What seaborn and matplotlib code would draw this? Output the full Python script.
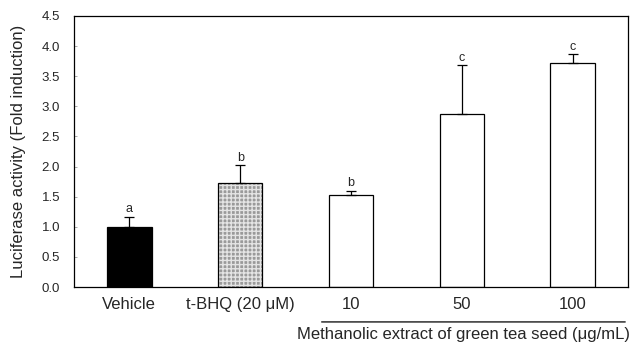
import matplotlib
matplotlib.use("Agg")
import matplotlib.pyplot as plt
import seaborn as sns
import pandas as pd
from matplotlib.patches import Rectangle

categories = ["Vehicle", "t-BHQ (20 \u03bcM)", "10", "50", "100"]
values = [1.00, 1.72, 1.52, 2.87, 3.72]
err_upper = [0.17, 0.31, 0.08, 0.81, 0.15]
letters = ["a", "b", "b", "c", "c"]
face_colors = ["black", "#9a9a9a", "white", "white", "white"]
yticks = [0.0, 0.5, 1.0, 1.5, 2.0, 2.5, 3.0, 3.5, 4.0, 4.5]

sns.set_theme(style="ticks")
plt.rcParams['font.family'] = ['Liberation Sans', 'DejaVu Sans']

df = pd.DataFrame({"cat": categories, "val": values})
fig = plt.figure(figsize=(6.32, 3.47), dpi=100)
ax = fig.add_axes([0.117, 0.1729, 0.8767, 0.781])

sns.barplot(data=df, x="cat", y="val", hue="cat", palette=face_colors,
            width=0.4, edgecolor="black", linewidth=0.9, legend=False, ax=ax,
            errorbar=None)

for i, p in enumerate(ax.patches):
    if i == 1:
        p.set_hatch("++++")
        p.set_edgecolor("#e4e4e4")
        p.set_linewidth(0.0)
        ax.add_patch(Rectangle((p.get_x(), 0), p.get_width(), p.get_height(),
                               fill=False, edgecolor="black", linewidth=0.9))

xs = list(range(len(categories)))
ax.errorbar(xs, values, yerr=[[0]*len(values), err_upper], fmt="none",
            ecolor="black", elinewidth=0.9, capsize=3.5, capthick=0.9)
for x, v, e, l in zip(xs, values, err_upper, letters):
    ax.text(x, v + e + 0.02, l, ha="center", va="bottom", fontsize=9)

ax.set_xlim(-0.5, 4.5)
ax.set_ylim(0, 4.5)
ax.set_yticks(yticks)
ax.set_yticklabels([f"{t:.1f}" for t in yticks], fontsize=9.5)
ax.tick_params(axis="x", length=0, labelsize=12, pad=7)
ax.tick_params(axis="y", direction="in", length=2, width=0.5, color="#888888", pad=10)
ax.set_xlabel("")
ax.set_ylabel("Luciferase activity (Fold induction)", fontsize=12, labelpad=11)
for s in ax.spines.values():
    s.set_linewidth(0.9)
    s.set_color("black")

ax.annotate("", xy=(1.71, -0.58), xytext=(4.5, -0.58), xycoords=("data", "data"),
            arrowprops=dict(arrowstyle="-", color="black", lw=0.9), annotation_clip=False)
ax.text(4.52, -0.66, "Methanolic extract of green tea seed (\u03bcg/mL)",
        ha="right", va="top", fontsize=12)

fig.savefig("out.png", dpi=100)
